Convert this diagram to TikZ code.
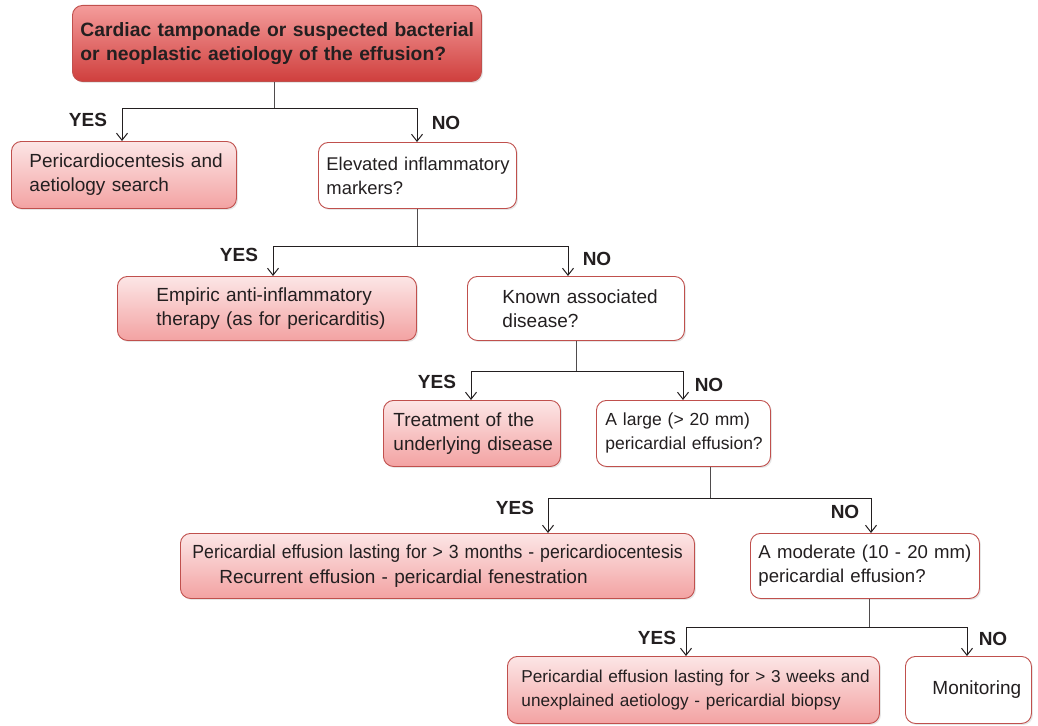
\documentclass[tikz,border=0pt]{standalone}
\usepackage{fontspec}
\setmainfont{Liberation Sans}
\usetikzlibrary{arrows.meta,shadows}
\definecolor{bord}{HTML}{C0504D}
\definecolor{txt}{HTML}{231F20}
\definecolor{redtop}{HTML}{F49C9B}
\definecolor{redbot}{HTML}{CF3F3D}
\definecolor{pinktop}{HTML}{FCE6E6}
\definecolor{pinkbot}{HTML}{F3A2A2}
\newcommand{\rowtxt}[1]{\mbox{#1}}
\newcommand{\fs}[1]{\fontsize{#1}{24}\selectfont}
\tikzset{
  base/.style={draw=bord, line width=0.9pt, rounded corners=10pt, anchor=north west,
    inner sep=0pt, text=txt, font=\fs{19}, align=left,
    drop shadow={shadow xshift=1.5pt, shadow yshift=-1.5pt, opacity=0.2}},
  hotbox/.style={base, top color=redtop, bottom color=redbot,
    font=\fontsize{19.3}{24}\selectfont\bfseries},
  pinkbox/.style={base, top color=pinktop, bottom color=pinkbot},
  qbox/.style={base, fill=white},
  lab/.style={font=\fontsize{19}{22}\selectfont\bfseries, text=txt, inner sep=0pt},
  arr/.style={-{Straight Barb[length=7pt,width=11pt]}, line width=1pt, draw=txt},
  stem/.style={line width=1pt, draw=txt!80}
}
\begin{document}
\begin{tikzpicture}[x=1pt,y=1pt]
\useasboundingbox (0,0) rectangle (1038,-725);

% boxes
\node[hotbox, minimum width=409pt, minimum height=76pt, text width=393pt] (top) at (72,-5)
  {\rowtxt{Cardiac tamponade or suspected bacterial}\\\rowtxt{or neoplastic aetiology of the effusion?}};
\node[pinkbox, minimum width=225pt, minimum height=67pt, text width=189pt] (peri) at (11,-141)
  {\rowtxt{Pericardiocentesis and}\\\rowtxt{aetiology search}};
\node[qbox, minimum width=198pt, minimum height=66pt, text width=182pt, font=\fs{18.4}] (elev) at (318,-142)
  {\rowtxt{Elevated inflammatory}\\\rowtxt{markers?}};
\node[pinkbox, minimum width=299pt, minimum height=64pt, text width=221pt] (emp) at (117,-276)
  {\rowtxt{Empiric anti-inflammatory}\\\rowtxt{therapy (as for pericarditis)}};
\node[qbox, minimum width=217pt, minimum height=64pt, text width=147pt] (known) at (467,-276)
  {\rowtxt{Known associated}\\\rowtxt{disease?}};
\node[pinkbox, minimum width=177pt, minimum height=66pt, text width=157pt] (treat) at (383,-400)
  {\rowtxt{Treatment of the}\\\rowtxt{underlying disease}};
\node[qbox, minimum width=174pt, minimum height=66pt, text width=156pt, font=\fs{17.5}] (large) at (596,-400)
  {\rowtxt{A large (> 20 mm)}\\\rowtxt{pericardial effusion?}};
\node[pinkbox, minimum width=514pt, minimum height=65pt, text width=490pt, font=\fontsize{19}{25}\selectfont] (months) at (180,-533)
  {\rowtxt{\scalebox{0.93}[1]{Pericardial effusion lasting for > 3 months - pericardiocentesis}}\\\rowtxt{\hspace*{27pt}Recurrent effusion - pericardial fenestration}};
\node[qbox, minimum width=229pt, minimum height=65pt, text width=213pt, font=\fs{18.6}] (mod) at (750,-533)
  {\rowtxt{A moderate (10 - 20 mm)}\\\rowtxt{pericardial effusion?}};
\node[pinkbox, minimum width=372pt, minimum height=67pt, text width=344pt, font=\fs{17.2}] (biop) at (507,-656)
  {\rowtxt{Pericardial effusion lasting for > 3 weeks and}\\\rowtxt{unexplained aetiology - pericardial biopsy}};
\node[qbox, minimum width=126pt, minimum height=67pt, text width=100pt, align=center] (mon) at (905,-656)
  {\rowtxt{\hspace*{14pt}Monitoring}};

% branch 1
\coordinate (s1) at (274,-108); \coordinate (y1) at (122,-108); \coordinate (n1) at (417,-108);
\draw[stem] (s1 |- top.south) -- (s1);
\draw[arr] (s1) -- (y1) -- (y1 |- peri.north);
\draw[arr] (s1) -- (n1) -- (n1 |- elev.north);
\node[lab] (ly1) at (88,-120) {YES};
\node[lab] (ln1) at (446,-123) {NO};

% branch 2
\coordinate (s2) at (417,-246); \coordinate (y2) at (273,-246); \coordinate (n2) at (568,-246);
\draw[stem] (s2 |- elev.south) -- (s2);
\draw[arr] (s2) -- (y2) -- (y2 |- emp.north);
\draw[arr] (s2) -- (n2) -- (n2 |- known.north);
\node[lab] (ly2) at (239,-255) {YES};
\node[lab] (ln2) at (597,-259) {NO};

% branch 3
\coordinate (s3) at (576,-371); \coordinate (y3) at (471,-371); \coordinate (n3) at (683,-371);
\draw[stem] (s3 |- known.south) -- (s3);
\draw[arr] (s3) -- (y3) -- (y3 |- treat.north);
\draw[arr] (s3) -- (n3) -- (n3 |- large.north);
\node[lab] (ly3) at (437,-382) {YES};
\node[lab] (ln3) at (709,-385) {NO};

% branch 4
\coordinate (s4) at (710,-498); \coordinate (y4) at (548,-498); \coordinate (n4) at (871,-498);
\draw[stem] (s4 |- large.south) -- (s4);
\draw[arr] (s4) -- (y4) -- (y4 |- months.north);
\draw[arr] (s4) -- (n4) -- (n4 |- mod.north);
\node[lab] (ly4) at (515,-508) {YES};
\node[lab] (ln4) at (845,-512) {NO};

% branch 5
\coordinate (s5) at (869,-627); \coordinate (y5) at (686,-627); \coordinate (n5) at (967,-627);
\draw[stem] (s5 |- mod.south) -- (s5);
\draw[arr] (s5) -- (y5) -- (y5 |- biop.north);
\draw[arr] (s5) -- (n5) -- (n5 |- mon.north);
\node[lab] (ly5) at (657,-638) {YES};
\node[lab] (ln5) at (993,-639) {NO};
\end{tikzpicture}
\end{document}
